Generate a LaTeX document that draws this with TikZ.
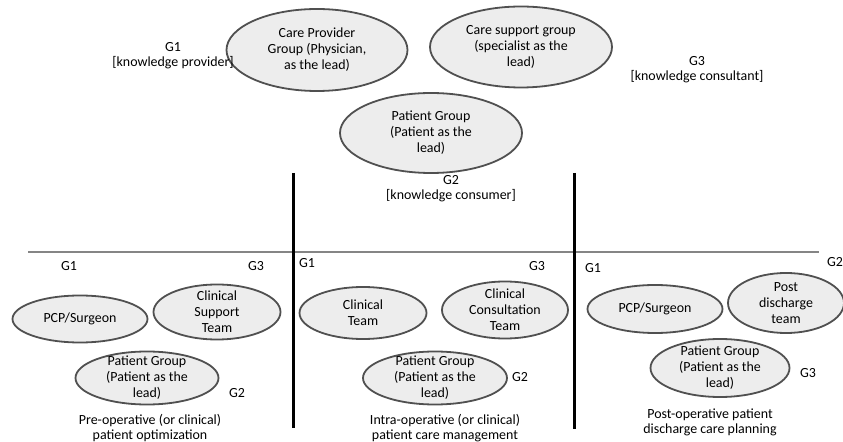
\documentclass[tikz,border=0pt]{standalone}
\usepackage{fontspec}
\setmainfont{Carlito}
\usetikzlibrary{shapes.geometric}
\definecolor{grpFill}{HTML}{EDEDED}
\definecolor{grpEdge}{HTML}{505050}
\definecolor{barGray}{HTML}{858585}

\begin{document}
\begin{tikzpicture}[x=1bp, y=-1bp]

\tikzset{
  grp/.style={ellipse, draw=grpEdge, fill=grpFill, line width=1.8bp, inner sep=0pt},
  txt/.style={align=center, font=\fontsize{14}{16}\selectfont, inner sep=0pt},
  glab/.style={align=center, font=\fontsize{14}{15}\selectfont, inner sep=0pt},
  hbar/.style={barGray, line width=2.5bp},
  vbar/.style={black, line width=3bp},
}

\useasboundingbox (0,0) rectangle (843,442);

% top groups
\node[grp, minimum width=181bp, minimum height=82bp] (cpg) at (317,50) {};
\node[txt] at (cpg) {Care Provider\\Group (Physician,\\as the lead)};
\node[grp, minimum width=182bp, minimum height=81bp] (csg) at (521,47) {};
\node[txt] at (csg) {Care support group\\(specialist as the\\lead)};
\node[grp, minimum width=182bp, minimum height=80bp] (ptg) at (431,133) {};
\node[txt] at (ptg) {Patient Group\\(Patient as the\\lead)};

\node[glab] (g1top) at (173,56) {G1\\{}[knowledge provider]};
\node[glab] (g3top) at (697,70) {G3\\{}[knowledge consultant]};
\node[glab] (g2top) at (451,189) {G2\\{}[knowledge consumer]};

% separators
\draw[hbar] (28,252) -- (819,252);
\draw[vbar] (293,173) -- (293,428);
\draw[vbar] (574,173) -- (574,429);

% pre-operative
\node[glab] at (69,266) {G1};
\node[glab] at (256,266) {G3};
\node[grp, minimum width=135bp, minimum height=47bp] (pcpA) at (80,319) {};
\node[txt] at (pcpA) {PCP/Surgeon};
\node[grp, minimum width=127bp, minimum height=55bp] (cst) at (217,312) {};
\node[txt] at (cst) {Clinical\\Support\\Team};
\node[grp, minimum width=143bp, minimum height=53bp] (ptA) at (147,378) {};
\node[txt] at (ptA) {Patient Group\\(Patient as the\\lead)};
\node[glab] at (237,393) {G2};
\node[glab] (preop) at (150,428) {Pre-operative (or clinical)\\patient optimization};

% intra-operative
\node[glab] at (307,263) {G1};
\node[glab] at (537,266) {G3};
\node[grp, minimum width=127bp, minimum height=52bp] (clt) at (363,313) {};
\node[txt] at (clt) {Clinical\\Team};
\node[grp, minimum width=126bp, minimum height=57bp] (cct) at (505,310) {};
\node[txt] at (cct) {Clinical\\Consultation\\Team};
\node[grp, minimum width=144bp, minimum height=53bp] (ptB) at (435,378) {};
\node[txt] at (ptB) {Patient Group\\(Patient as the\\lead)};
\node[glab] at (520,377) {G2};
\node[glab] (intraop) at (445,428) {Intra-operative (or clinical)\\patient care management};

% post-operative
\node[glab] at (593,268) {G1};
\node[glab] at (835,262) {G2};
\node[grp, minimum width=135bp, minimum height=48bp] (pcpC) at (655,309) {};
\node[txt] at (pcpC) {PCP/Surgeon};
\node[grp, minimum width=116bp, minimum height=60bp] (pdt) at (786,303) {};
\node[txt] at (pdt) {Post\\discharge\\team};
\node[grp, minimum width=139bp, minimum height=58bp] (ptC) at (720,368) {};
\node[txt] at (ptC) {Patient Group\\(Patient as the\\lead)};
\node[glab] at (808,373) {G3};
\node[glab] (postop) at (710,422) {Post-operative patient\\discharge care planning};

\end{tikzpicture}
\end{document}
